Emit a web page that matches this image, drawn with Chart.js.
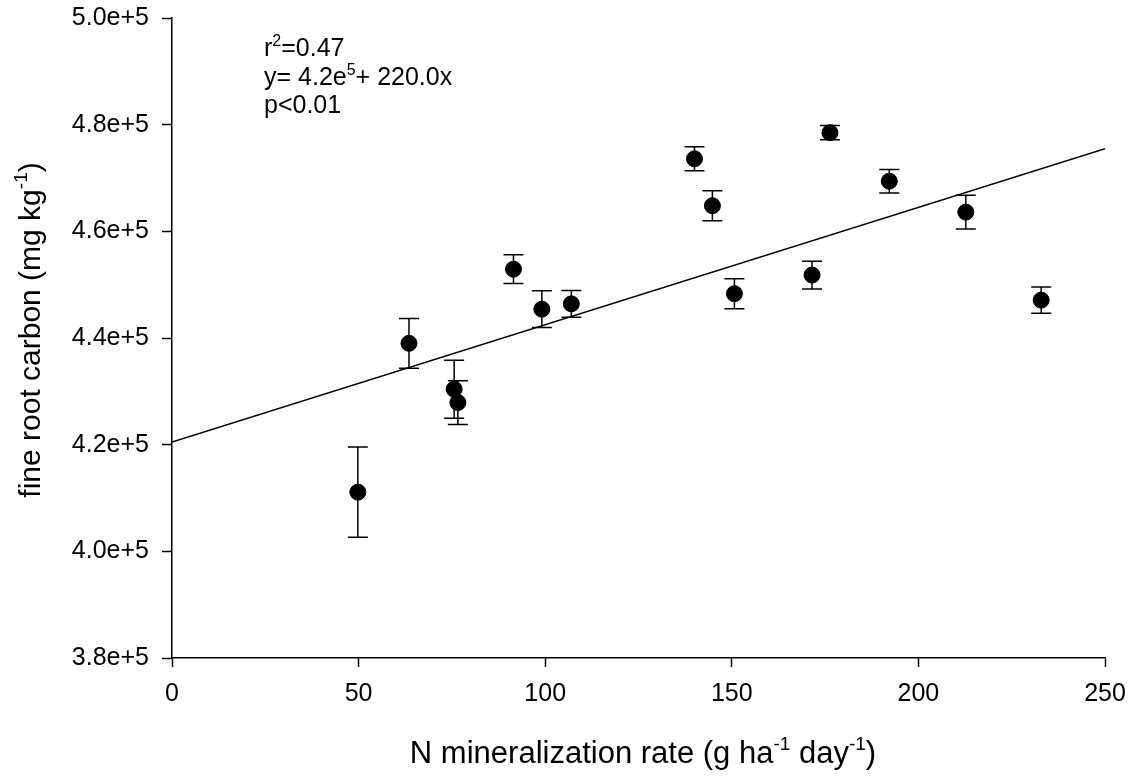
<!DOCTYPE html>
<html>
<head>
<meta charset="utf-8">
<script src="https://cdn.jsdelivr.net/npm/chart.js@4.4.1/dist/chart.umd.min.js"></script>
<style>
  html, body { margin: 0; padding: 0; background: #fff; }
  #wrap { width: 1138px; height: 776px; }
</style>
</head>
<body>
<div id="wrap"><canvas id="chart" width="1138" height="776"></canvas></div>
<script>
// N mineralization rate vs fine root carbon, mean +/- error
let nRate = [49.8, 63.5, 75.6, 76.6, 91.5, 99.1, 107.0, 140.0, 144.8, 150.7, 171.5, 176.3, 192.2, 212.7, 232.9]
let rootC = [411100, 439000, 430400, 427900, 452900, 445400, 446400, 473600, 464800, 448300, 451800, 478500, 469400, 463600, 447100]
let rootErr = [8450, 4650, 5450, 4100, 2700, 3450, 2500, 2250, 2800, 2800, 2600, 1350, 2200, 3150, 2450]

// linear fit (printed rounded as 4.2e5 + 220.0x)
let fitIntercept = 420500
let fitSlope = 220.0
let fitRange = [0, 250]

let xTicks = [0, 50, 100, 150, 200, 250]
let yTicks = [380000, 400000, 420000, 440000, 460000, 480000, 500000]

const FONT = "'Liberation Sans', Arial, sans-serif"

let points = nRate.map((x, i) => ({x: x, y: rootC[i]}))
let fitLine = fitRange.map(x => ({x: x, y: fitIntercept + fitSlope * x}))

// error bars go under the dots
const errorBars = {
    id: 'errorBars',
    beforeDatasetsDraw(chart) {
        const ctx = chart.ctx
        const xs = chart.scales.x, ys = chart.scales.y
        ctx.save()
        ctx.strokeStyle = '#000'
        ctx.lineWidth = 1.5
        points.forEach((p, i) => {
            const px = xs.getPixelForValue(p.x)
            const top = ys.getPixelForValue(p.y + rootErr[i])
            const bot = ys.getPixelForValue(p.y - rootErr[i])
            ctx.beginPath()
            ctx.moveTo(px, top); ctx.lineTo(px, bot)
            ctx.moveTo(px - 10, top); ctx.lineTo(px + 10, top)
            ctx.moveTo(px - 10, bot); ctx.lineTo(px + 10, bot)
            ctx.stroke()
        })
        ctx.restore()
    }
}

// draws text pieces, {sup} parts raised and smaller
function drawRich(ctx, parts, x, y, size) {
    let cx = x
    parts.forEach(p => {
        const sup = typeof p === 'object'
        const s = sup ? Math.round(size * 0.62) : size
        ctx.font = s + 'px ' + FONT
        ctx.fillText(sup ? p.sup : p, cx, sup ? y - size * 0.42 : y)
        cx += ctx.measureText(sup ? p.sup : p).width
    })
    return cx - x
}
function richWidth(ctx, parts, size) {
    let w = 0
    parts.forEach(p => {
        const sup = typeof p === 'object'
        ctx.font = (sup ? Math.round(size * 0.62) : size) + 'px ' + FONT
        w += ctx.measureText(sup ? p.sup : p).width
    })
    return w
}

const labels = {
    id: 'labels',
    afterDraw(chart) {
        const ctx = chart.ctx
        ctx.save()
        ctx.fillStyle = '#000'
        ctx.textBaseline = 'alphabetic'
        ctx.textAlign = 'left'

        // stats text
        drawRich(ctx, ['r', {sup: '2'}, '=0.47'], 264, 56, 25)
        drawRich(ctx, ['y= 4.2e', {sup: '5'}, '+ 220.0x'], 264, 85, 25)
        drawRich(ctx, ['p<0.01'], 264, 113, 25)

        // x title
        const xt = ['N mineralization rate (g ha', {sup: '-1'}, ' day', {sup: '-1'}, ')']
        const xw = richWidth(ctx, xt, 31)
        drawRich(ctx, xt, 643 - xw / 2, 763, 31)

        // y title, rotated
        const yt = ['fine root carbon (mg kg', {sup: '-1'}, ')']
        const yw = richWidth(ctx, yt, 30)
        ctx.translate(40, 330)
        ctx.rotate(-Math.PI / 2)
        drawRich(ctx, yt, -yw / 2, 0, 30)
        ctx.restore()
    }
}

new Chart(document.getElementById('chart').getContext('2d'), {
    type: 'scatter',
    data: {
        datasets: [{
            label: 'fine root carbon',
            data: points,
            backgroundColor: '#000',
            borderColor: '#000',
            pointRadius: 8,
            pointHoverRadius: 8,
            showLine: false
        }, {
            label: 'fit',
            type: 'line',
            data: fitLine,
            borderColor: '#000',
            borderWidth: 1.5,
            pointRadius: 0,
            fill: false
        }]
    },
    plugins: [errorBars, labels],
    options: {
        responsive: false,
        animation: false,
        layout: { padding: { top: 18, right: 33, left: 0, bottom: 0 } },
        plugins: {
            legend: { display: false },
            tooltip: { enabled: false }
        },
        scales: {
            x: {
                type: 'linear',
                min: 0,
                max: 250,
                afterBuildTicks: axis => { axis.ticks = xTicks.map(v => ({value: v})) },
                afterFit: axis => {
                    axis.height = 118
                    axis.paddingLeft = 0
                    axis.paddingRight = 0
                },
                grid: { drawOnChartArea: false, drawTicks: true, tickLength: 9, tickColor: '#000', tickWidth: 1.5 },
                border: { display: true, color: '#000', width: 1.5 },
                ticks: { color: '#000', padding: 12, maxRotation: 0, font: { family: FONT, size: 25 } }
            },
            y: {
                type: 'linear',
                min: 380000,
                max: 500000,
                afterBuildTicks: axis => { axis.ticks = yTicks.map(v => ({value: v})) },
                afterFit: axis => {
                    axis.width = 172
                    axis.paddingTop = 0
                    axis.paddingBottom = 0
                },
                grid: { drawOnChartArea: false, drawTicks: true, tickLength: 10, tickColor: '#000', tickWidth: 1.5 },
                border: { display: true, color: '#000', width: 1.5 },
                ticks: {
                    color: '#000',
                    padding: 13,
                    font: { family: FONT, size: 25 },
                    callback: v => (v / 1e5).toFixed(1) + 'e+5'
                }
            }
        }
    }
});
</script>
</body>
</html>
